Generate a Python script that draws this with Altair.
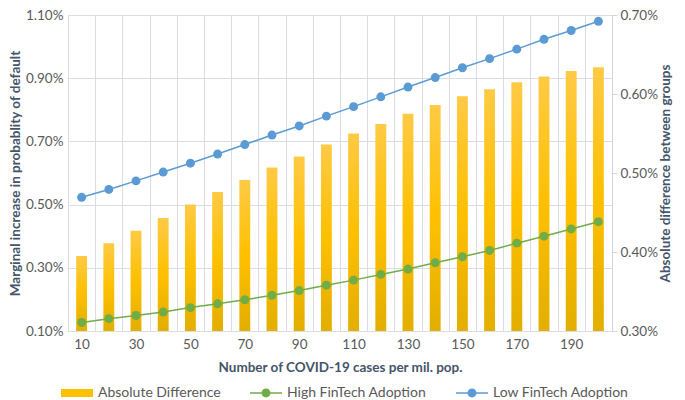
import altair as alt
import pandas as pd

# Number of COVID-19 cases per million population (categories)
cases = [10, 20, 30, 40, 50, 60, 70, 80, 90, 100,
         110, 120, 130, 140, 150, 160, 170, 180, 190, 200]

# Marginal increase in probability of default, in percent (left axis)
low_fintech = [0.523, 0.548, 0.575, 0.603, 0.631, 0.660, 0.690, 0.720, 0.749, 0.780,
               0.810, 0.841, 0.872, 0.902, 0.933, 0.962, 0.992, 1.023, 1.051, 1.080]
high_fintech = [0.127, 0.139, 0.149, 0.160, 0.174, 0.186, 0.199, 0.213, 0.228, 0.245,
                0.261, 0.279, 0.296, 0.316, 0.335, 0.355, 0.378, 0.400, 0.423, 0.446]

# Absolute difference between groups, in percent (right axis)
abs_diff = [0.395, 0.411, 0.427, 0.443, 0.460, 0.476, 0.491, 0.507, 0.521, 0.536,
            0.550, 0.562, 0.575, 0.586, 0.597, 0.606, 0.615, 0.622, 0.629, 0.634]

series_names = ["Absolute Difference", "High FinTech Adoption", "Low FinTech Adoption"]
series_colors = ["#FFC000", "#70AD47", "#5B9BD5"]

left_ticks = [0.1, 0.3, 0.5, 0.7, 0.9, 1.1]
right_ticks = [0.3, 0.4, 0.5, 0.6, 0.7]

GRID = "#DADDE3"
LABEL = "#595959"
TITLE = "#44546A"
FONT = "Lato"

bars_df = pd.DataFrame({"cases": cases, "diff": abs_diff})
low_df = pd.DataFrame({"cases": cases, "value": low_fintech})
high_df = pd.DataFrame({"cases": cases, "value": high_fintech})
legend_df = pd.DataFrame({"series": series_names})

pct = "format(datum.value, '.2f') + '%'"

x_enc = alt.X(
    "cases:O",
    scale=alt.Scale(type="band", paddingInner=0, paddingOuter=0),
    axis=alt.Axis(
        tickBand="extent", grid=True, gridColor=GRID, ticks=False,
        domainColor=GRID, labelAngle=0, labelPadding=6,
        labelExpr="datum.value % 20 == 10 ? datum.label : ''",
        titlePadding=10,
    ),
    title="Number of COVID-19 cases per mil. pop.",
)

y_left = alt.Y(
    "value:Q",
    scale=alt.Scale(domain=[0.1, 1.1], zero=False, nice=False),
    axis=alt.Axis(
        orient="left", values=left_ticks, labelExpr=pct, grid=True,
        gridColor=GRID, domain=False, ticks=False, labelPadding=5,
        titlePadding=3,
    ),
    title="Marginal increase in probablity of default",
)

gold = alt.Gradient(
    gradient="linear", x1=0, x2=0, y1=0, y2=1,
    stops=[
        alt.GradientStop(offset=0, color="#FFCA45"),
        alt.GradientStop(offset=0.5, color="#FFC000"),
        alt.GradientStop(offset=1, color="#E2AE00"),
    ],
)

bars = alt.Chart(bars_df).mark_bar(color=gold, width=alt.RelativeBandSize(0.4)).encode(
    x=x_enc,
    y=alt.Y(
        "diff:Q",
        scale=alt.Scale(domain=[0.3, 0.7], zero=False, nice=False),
        axis=alt.Axis(
            orient="right", values=right_ticks, labelExpr=pct, grid=False,
            tickSize=5, tickColor="#D0D5DE", domainColor="#D0D5DE",
            labelPadding=3, titlePadding=1, titleAngle=270, titleBaseline="top",
        ),
        title="Absolute difference between groups",
    ),
    y2=alt.datum(0.3),
)


def series_layers(df, color):
    line = alt.Chart(df).mark_line(color=color, strokeWidth=1.5).encode(x=x_enc, y=y_left)
    dots = alt.Chart(df).mark_circle(color=color, size=80, opacity=1).encode(x=x_enc, y=y_left)
    return [line, dots]


# legend symbols: a wide bar, and a line with a marker
rect_path = "M-1,-0.5H3V0.5H-1Z"
line_path = ("M-1,-0.09H0.45V0.09H-1Z M1.55,-0.09H3V0.09H1.55Z "
             "M0.44,0A0.56,0.56 0 1,1 1.56,0A0.56,0.56 0 1,1 0.44,0Z")

legend = alt.Legend(
    orient="none", legendX=-7, legendY=370, direction="horizontal", columns=3,
    title=None, labelFont=FONT, labelFontSize=14, labelColor=LABEL,
    symbolSize=256, symbolStrokeWidth=0, labelOffset=21, columnPadding=29,
)

legend_layer = alt.Chart(legend_df).mark_point(filled=True, opacity=1).encode(
    color=alt.Color("series:N", scale=alt.Scale(domain=series_names, range=series_colors), legend=legend),
    shape=alt.Shape("series:N", scale=alt.Scale(domain=series_names, range=[rect_path, line_path, line_path]), legend=legend),
).transform_filter("false")

left = alt.layer(
    *series_layers(low_df, series_colors[2]),
    *series_layers(high_df, series_colors[1]),
    legend_layer,
)

chart = alt.layer(bars, left).resolve_scale(y="independent").properties(
    width=544,
    height=316,
    autosize=alt.AutoSizeParams(type="none"),
    padding={"left": 60, "top": 7, "right": 65, "bottom": 69},
).configure_axis(
    labelFont=FONT, labelFontSize=13.5, labelColor=LABEL,
    titleFont=FONT, titleFontSize=13.5, titleFontWeight="bold", titleColor=TITLE,
).configure_view(stroke=None)

chart.save("out.html", embed_options={"renderer": "svg", "actions": False})
